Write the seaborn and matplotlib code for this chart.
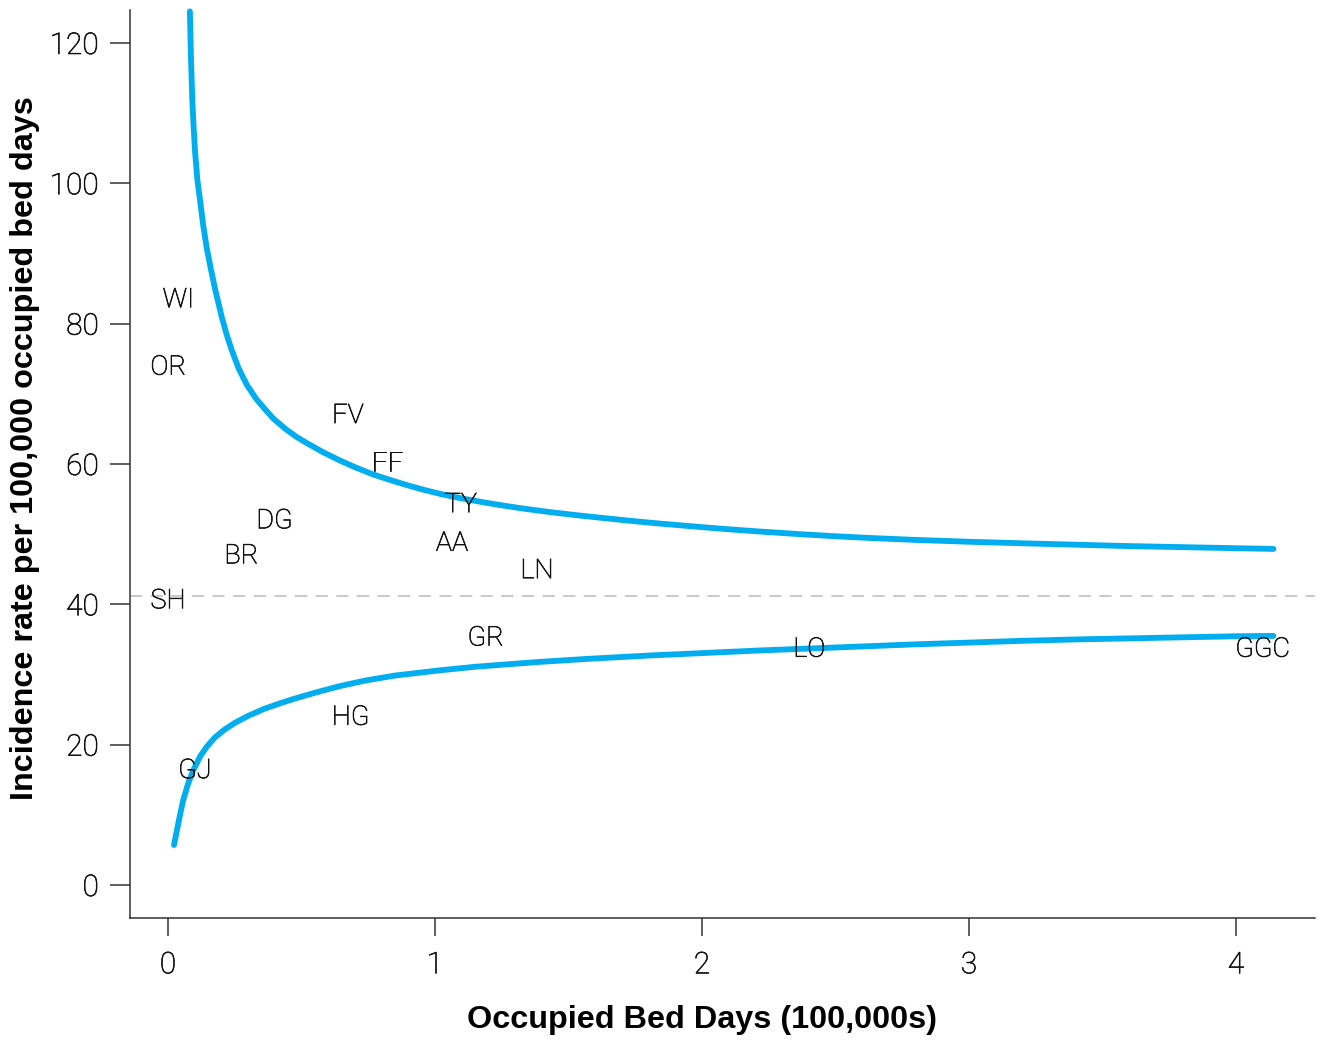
import matplotlib
matplotlib.use("Agg")
import matplotlib.pyplot as plt
import matplotlib.patheffects as pe
import seaborn as sns
import pandas as pd

# ---- data ----
upper_x = [0.082, 0.086, 0.091, 0.096, 0.101, 0.110, 0.120, 0.132, 0.145, 0.160, 0.176, 0.201,
           0.220, 0.239, 0.265, 0.295, 0.33, 0.36, 0.394, 0.44, 0.48, 0.519, 0.58, 0.644,
           0.70, 0.769, 0.83, 0.894, 0.96, 1.019, 1.10, 1.18, 1.243, 1.33, 1.43, 1.52,
           1.618, 1.72, 1.83, 2.0, 2.1, 2.2, 2.367, 2.5, 2.65, 2.8, 3.0, 3.2, 3.4, 3.6,
           3.8, 4.0, 4.14]
upper_y = [124.5, 118.0, 111.9, 108.0, 104.7, 100.5, 97.6, 94.0, 90.8, 87.9, 85.0, 81.0,
           78.4, 76.2, 73.6, 71.3, 69.3, 67.95, 66.5, 65.0, 63.9, 63.0, 61.7, 60.5,
           59.55, 58.5, 57.75, 57.0, 56.3, 55.75, 55.1, 54.55, 54.15, 53.65, 53.15, 52.75,
           52.35, 51.95, 51.55, 51.0, 50.7, 50.42, 50.0, 49.7, 49.42, 49.18, 48.92, 48.7, 48.5, 48.3,
           48.15, 48.0, 47.9]

lower_x = [0.0225, 0.034, 0.045, 0.057, 0.075, 0.094, 0.120, 0.145, 0.175, 0.21, 0.25, 0.30,
           0.36, 0.42, 0.469, 0.55, 0.644, 0.74, 0.85, 1.019, 1.15, 1.27, 1.393, 1.581,
           1.8, 2.0, 2.2, 2.4, 2.6, 2.8, 3.0, 3.2, 3.4, 3.6, 3.8, 4.0, 4.14]
lower_y = [5.7, 7.9, 10.0, 12.1, 14.4, 16.3, 18.3, 19.7, 21.0, 22.1, 23.1, 24.1,
           25.1, 25.9, 26.5, 27.4, 28.35, 29.15, 29.85, 30.6, 31.1, 31.45, 31.8, 32.25,
           32.7, 33.05, 33.4, 33.7, 34.0, 34.3, 34.55, 34.8, 35.0, 35.15, 35.3, 35.45, 35.5]

mean_rate = 41.2

board_codes = ["WI", "OR", "FV", "FF", "TY", "DG", "BR", "AA", "LN", "SH", "GR", "LO", "GGC", "HG", "GJ"]
board_beddays = [0.039, 0.001, 0.674, 0.821, 1.097, 0.399, 0.275, 1.064, 1.382, 0.0, 1.190, 2.402, 4.10, 0.684, 0.101]
board_rates = [83.4, 73.8, 66.9, 60.1, 54.2, 51.9, 46.9, 48.7, 44.8, 40.5, 35.2, 33.6, 33.6, 23.9, 16.3]

x_ticks = [0, 1, 2, 3, 4]
y_ticks = [0, 20, 40, 60, 80, 100, 120]

# ---- styling ----
sns.set_style("ticks")
plt.rcParams["font.family"] = ["Roboto", "DejaVu Sans"]

line_color = "#00AEEF"
ink = "#111111"
text_weight = "light"
thicken = [pe.withStroke(linewidth=0.45, foreground=ink)]

fig = plt.figure(figsize=(13.22, 10.41), dpi=100)
ax = fig.add_axes([130 / 1322, 1 - 918 / 1041, (1315 - 130) / 1322, (918 - 10) / 1041])

limits = pd.concat([
    pd.DataFrame({"beddays": upper_x, "rate": upper_y, "limit": "upper"}),
    pd.DataFrame({"beddays": lower_x, "rate": lower_y, "limit": "lower"}),
])

ax.axhline(mean_rate, color="#BBBBBB", lw=1.1, linestyle=(0, (8, 5.5)), zorder=1)

sns.lineplot(data=limits, x="beddays", y="rate", units="limit", estimator=None,
             color=line_color, lw=4.2, solid_capstyle="round", solid_joinstyle="round",
             ax=ax, zorder=2, legend=False, sort=False)
for ln in ax.lines:
    ln.set_clip_on(False)

for code, bx, by in zip(board_codes, board_beddays, board_rates):
    ax.text(bx, by, code, ha="center", va="center", fontsize=19.5,
            fontweight=text_weight, color=ink, zorder=3, path_effects=thicken)

ax.set_xlim(-0.1423, 4.296)
ax.set_ylim(-4.70, 124.70)
ax.set_xticks(x_ticks)
ax.set_yticks(y_ticks)
ax.set_xticklabels([str(t) for t in x_ticks])
ax.set_yticklabels([str(t) for t in y_ticks])

for side in ["top", "right"]:
    ax.spines[side].set_visible(False)
for side in ["left", "bottom"]:
    ax.spines[side].set_color("#333333")
    ax.spines[side].set_linewidth(1.1)

ax.tick_params(axis="y", length=14.4, width=1.1, color="#333333", pad=8,
               labelsize=21.5, labelcolor=ink)
ax.tick_params(axis="x", length=13, width=1.1, color="#333333", pad=11,
               labelsize=21.5, labelcolor=ink)
for lab in ax.get_xticklabels() + ax.get_yticklabels():
    lab.set_fontweight(text_weight)
    lab.set_path_effects(thicken)

ax.set_xlabel("Occupied Bed Days (100,000s)", fontsize=23.3, fontweight="bold",
              family=["Liberation Sans", "DejaVu Sans"], color="black")
ax.set_ylabel("Incidence rate per 100,000 occupied bed days", fontsize=23.3,
              fontweight="bold", family=["Liberation Sans", "DejaVu Sans"], color="black")
ax.xaxis.label.set_va("center")
ax.yaxis.label.set_va("center")
ax.xaxis.set_label_coords(0.483, -0.112)
ax.yaxis.set_label_coords(-0.0886, 0.518)

fig.savefig("out.png", dpi=100, facecolor="white")
